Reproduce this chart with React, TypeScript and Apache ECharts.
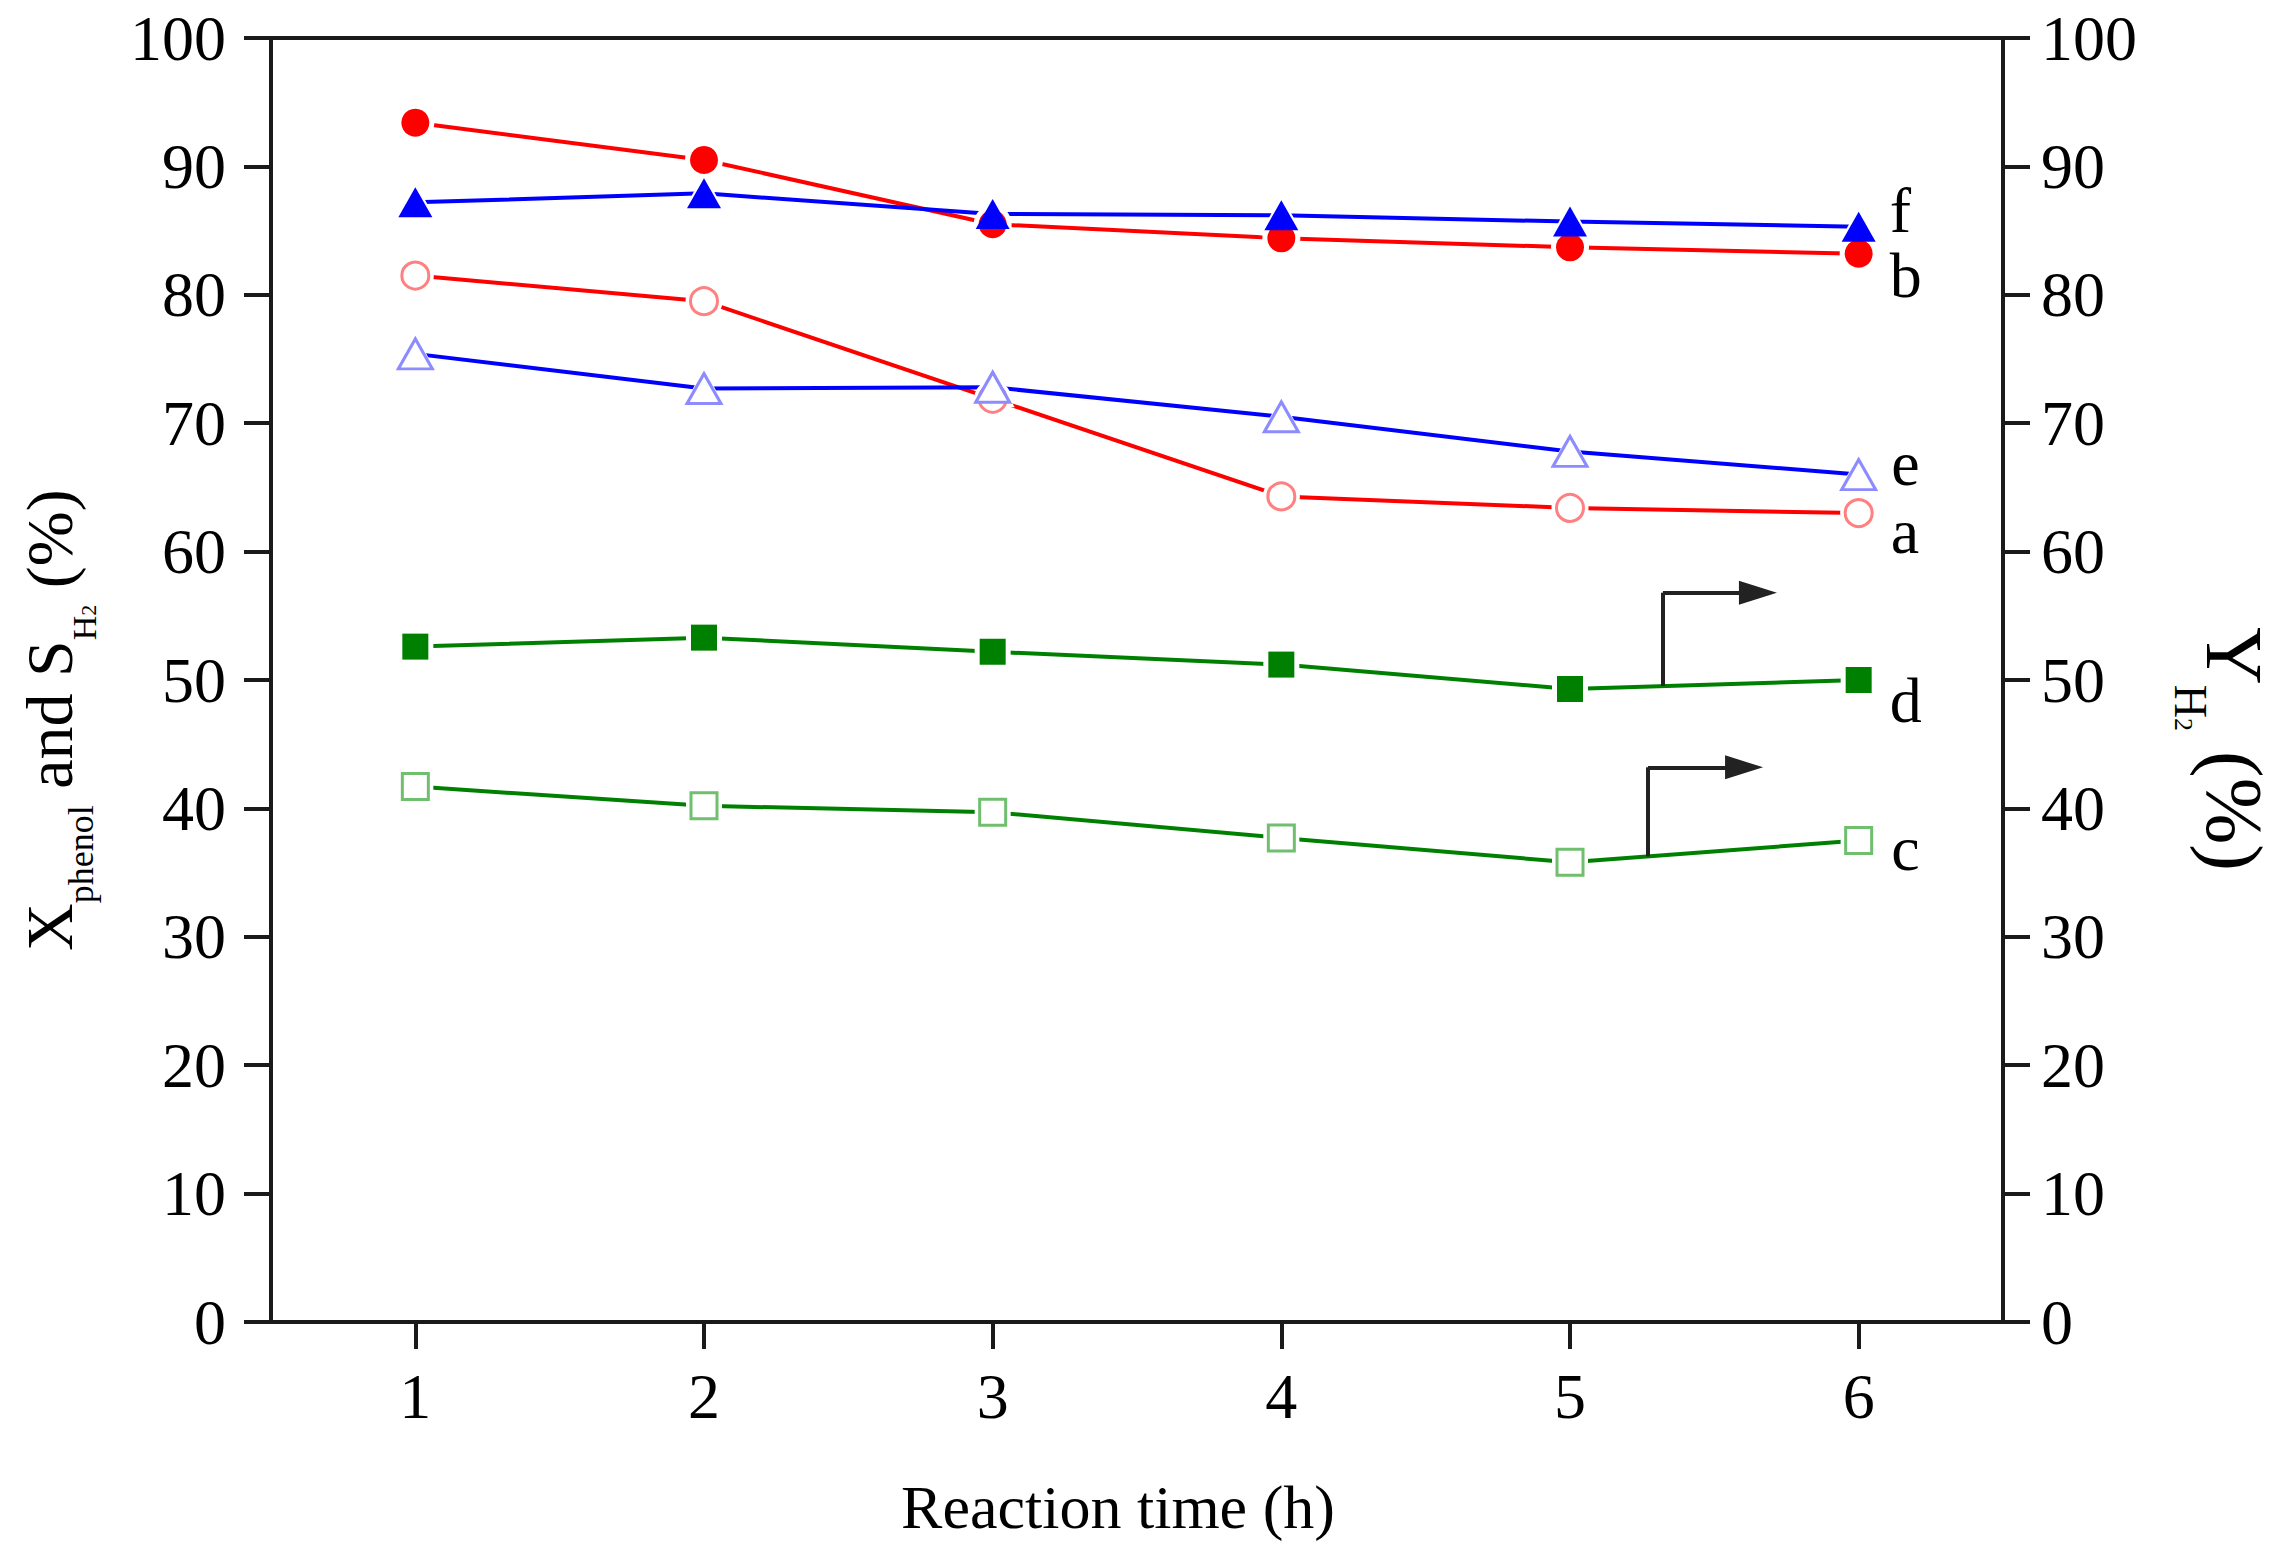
import { useEffect, useRef } from "react";
import * as echarts from "echarts";

// reaction time (h)
const HOURS = [1, 2, 3, 4, 5, 6];
const X_TICKS = [1, 2, 3, 4, 5, 6];

// X_phenol and S_H2 (%) on the left axis
const A_OPEN_RED = [81.5, 79.5, 71.9, 64.3, 63.4, 63.0];
const B_FILLED_RED = [93.4, 90.5, 85.5, 84.4, 83.7, 83.2];
const E_OPEN_BLUE = [75.4, 72.7, 72.8, 70.5, 67.8, 66.0];
const F_FILLED_BLUE = [87.2, 87.9, 86.3, 86.2, 85.7, 85.3];
// Y_H2 (%) on the right axis
const C_OPEN_GREEN = [41.7, 40.2, 39.7, 37.7, 35.8, 37.5];
const D_FILLED_GREEN = [52.6, 53.3, 52.2, 51.2, 49.3, 50.0];

// arrows pointing to the right axis: stem [bottom, top], then head [start, end]
const ARROW_D_STEM = [[5.322, 49.53], [5.322, 56.8]];
const ARROW_D_HEAD = [[5.322, 56.8], [5.651, 56.8]];
const ARROW_C_STEM = [[5.27, 36.26], [5.27, 43.2]];
const ARROW_C_HEAD = [[5.27, 43.2], [5.603, 43.2]];

const FONT = '"Liberation Serif", "Times New Roman", serif';
const AXIS = "#1a1a1a";

type Def = {
  name: string;
  values: number[];
  color: string;
  edge: string;
  filled: boolean;
  symbol: string;
  size: number | number[];
  halo: number | number[];
  axis: number;
  dist: number;
  dy: number;
};

const DEFS: Def[] = [
  { name: "a", values: A_OPEN_RED, color: "#ff0000", edge: "#ff8080", filled: false, symbol: "circle", size: 27, halo: 37, axis: 0, dist: 17, dy: 18 },
  { name: "b", values: B_FILLED_RED, color: "#ff0000", edge: "#ff0000", filled: true, symbol: "circle", size: 28, halo: 38, axis: 0, dist: 17, dy: 22 },
  { name: "e", values: E_OPEN_BLUE, color: "#0000ff", edge: "#8c8cff", filled: false, symbol: "triangle", size: [34, 30], halo: [44, 40], axis: 0, dist: 14, dy: -11 },
  { name: "f", values: F_FILLED_BLUE, color: "#0000ff", edge: "#0000ff", filled: true, symbol: "triangle", size: [34, 30], halo: [44, 40], axis: 0, dist: 14, dy: -16 },
  { name: "d", values: D_FILLED_GREEN, color: "#008000", edge: "#008000", filled: true, symbol: "rect", size: 26, halo: 36, axis: 1, dist: 18, dy: 20 },
  { name: "c", values: C_OPEN_GREEN, color: "#008000", edge: "#6fbf6f", filled: false, symbol: "rect", size: 26, halo: 36, axis: 1, dist: 18, dy: 8 },
];

type Part = { text: string; size: number; shift: number };

const LEFT_TITLE: Part[] = [
  { text: "X", size: 66, shift: 0 },
  { text: "phenol", size: 36, shift: 21 },
  { text: " and S", size: 66, shift: 0 },
  { text: "H", size: 34, shift: 24 },
  { text: "2", size: 22, shift: 24 },
  { text: " (%)", size: 66, shift: 0 },
];

const RIGHT_TITLE: Part[] = [
  { text: "Y", size: 80, shift: 0 },
  { text: "H", size: 46, shift: 32 },
  { text: "2", size: 26, shift: 32 },
  { text: " (%)", size: 80, shift: 0 },
];

function measure(ctx: CanvasRenderingContext2D, text: string, size: number) {
  ctx.font = `${size}px ${FONT}`;
  return ctx.measureText(text).width;
}

// a rotated title made of pieces with sub-scripts; (x, y) is the start of the baseline
function title(parts: Part[], x: number, y: number, rotation: number) {
  const ctx = document.createElement("canvas").getContext("2d")!;
  let adv = 0;
  const children = parts.map((p) => {
    const el = {
      type: "text",
      x: adv,
      y: p.shift - p.size * 0.34,
      style: { text: p.text, fontSize: p.size, fontFamily: FONT, fill: "#000", align: "left", verticalAlign: "middle" },
    };
    adv += measure(ctx, p.text, p.size);
    return el;
  });
  return { type: "group", x, y, rotation, silent: true, children };
}

const valueAxis = (position: "left" | "right") => ({
  type: "value",
  position,
  min: 0,
  max: 100,
  interval: 10,
  axisLine: { show: true, lineStyle: { color: AXIS, width: 4 } },
  axisTick: { show: true, inside: false, length: 27, lineStyle: { color: AXIS, width: 4 } },
  axisLabel: { margin: position === "left" ? 45 : 38, fontSize: 64, fontFamily: FONT, color: "#000" },
  splitLine: { show: false },
});

export default function App() {
  const ref = useRef<HTMLDivElement>(null);
  useEffect(() => {
    if (!ref.current) return;
    document.body.style.margin = "0";
    const chart = echarts.init(ref.current, null, { renderer: "svg" });

    const series: any[] = [];
    DEFS.forEach((d) => {
      const pts = d.values.map((v, i) => [HOURS[i], v]);
      // line with white halos that leave a small gap round each marker
      series.push({
        type: "line",
        yAxisIndex: d.axis,
        data: pts,
        symbol: d.symbol,
        symbolSize: d.halo,
        showSymbol: true,
        itemStyle: { color: "#fff", borderWidth: 0, opacity: 1 },
        lineStyle: { color: d.color, width: 4 },
        z: 2,
        silent: true,
      });
      series.push({
        type: "scatter",
        yAxisIndex: d.axis,
        symbol: d.symbol,
        symbolSize: d.size,
        itemStyle: d.filled
          ? { color: d.color, borderWidth: 0, opacity: 1 }
          : { color: "#fff", borderColor: d.edge, borderWidth: 3, opacity: 1 },
        data: pts.map((p, i) =>
          i === pts.length - 1
            ? {
                value: p,
                label: {
                  show: true,
                  formatter: d.name,
                  position: "right",
                  distance: d.dist,
                  offset: [0, d.dy],
                  fontSize: 64,
                  fontFamily: FONT,
                  color: "#000",
                  opacity: 1,
                },
              }
            : p
        ),
        z: 4,
        silent: true,
      });
    });

    const arrowLine = { color: "#222", width: 4, opacity: 1, curveness: 0 };
    series.push({
      type: "lines",
      coordinateSystem: "cartesian2d",
      yAxisIndex: 1,
      symbol: ["none", "none"],
      lineStyle: arrowLine,
      data: [{ coords: ARROW_D_STEM }, { coords: ARROW_C_STEM }],
      z: 5,
      silent: true,
    });
    series.push({
      type: "lines",
      coordinateSystem: "cartesian2d",
      yAxisIndex: 1,
      symbol: ["none", "triangle"],
      symbolSize: [1, [24, 38]],
      lineStyle: arrowLine,
      data: [{ coords: ARROW_D_HEAD }, { coords: ARROW_C_HEAD }],
      z: 5,
      silent: true,
    });

    chart.setOption({
      animation: false,
      backgroundColor: "#fff",
      grid: { left: 271, right: 278, top: 38, bottom: 233, show: true, borderColor: AXIS, borderWidth: 4, backgroundColor: "transparent" },
      xAxis: {
        type: "value",
        min: 0.5,
        max: 6.5,
        axisLine: { show: true, lineStyle: { color: AXIS, width: 4 } },
        axisTick: { show: true, inside: false, length: 27, lineStyle: { color: AXIS, width: 4 }, customValues: X_TICKS },
        axisLabel: { customValues: X_TICKS, margin: 42, fontSize: 64, fontFamily: FONT, color: "#000" },
        splitLine: { show: false },
        name: "Reaction time (h)",
        nameLocation: "middle",
        nameGap: 154,
        nameTextStyle: { fontSize: 62, fontFamily: FONT, color: "#000", padding: [0, 38, 0, 0] },
      },
      yAxis: [valueAxis("left"), valueAxis("right")],
      graphic: [
        title(LEFT_TITLE, 72, 951, Math.PI / 2),
        title(RIGHT_TITLE, 2207, 627, -Math.PI / 2),
      ],
      series,
    });

    const onResize = () => chart.resize();
    window.addEventListener("resize", onResize);
    return () => {
      window.removeEventListener("resize", onResize);
      chart.dispose();
    };
  }, []);
  return <div ref={ref} style={{ width: 2281, height: 1555 }} aria-label="Phenol conversion and hydrogen yield over reaction time" />;
}
